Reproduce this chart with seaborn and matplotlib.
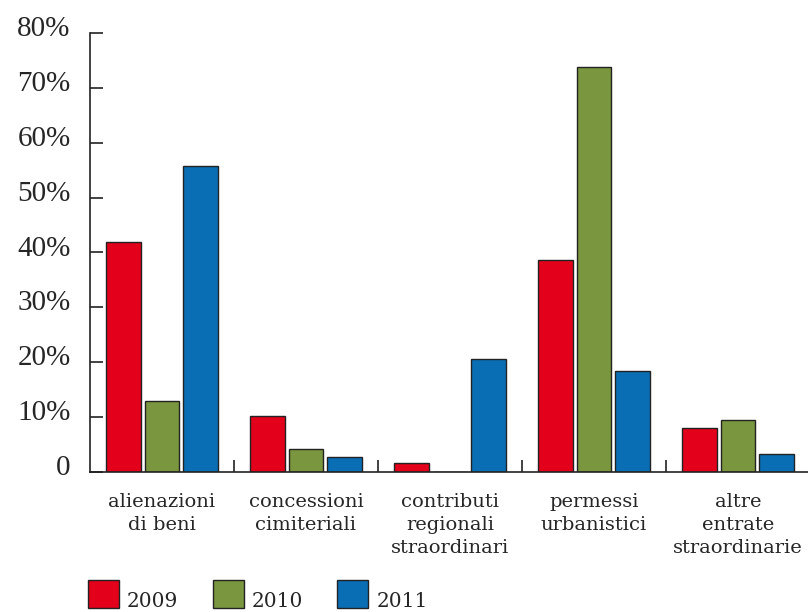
import matplotlib
matplotlib.use("Agg")
import matplotlib.pyplot as plt
import matplotlib.transforms as mtransforms
from matplotlib.legend_handler import HandlerPatch
import numpy as np
import pandas as pd
import seaborn as sns

categories = [
    "alienazioni\ndi beni",
    "concessioni\ncimiteriali",
    "contributi\nregionali\nstraordinari",
    "permessi\nurbanistici",
    "altre\nentrate\nstraordinarie",
]
years = ["2009", "2010", "2011"]
values_2009 = [42.0, 10.2, 1.6, 38.6, 8.0]
values_2010 = [12.9, 4.2, 0.0, 73.8, 9.5]
values_2011 = [55.7, 2.7, 20.6, 18.4, 3.3]
y_ticks = [0, 10, 20, 30, 40, 50, 60, 70, 80]
y_tick_labels = ["0", "10%", "20%", "30%", "40%", "50%", "60%", "70%", "80%"]

palette = {"2009": "#E2001A", "2010": "#7A963E", "2011": "#0A6EB4"}

df = pd.DataFrame({
    "categoria": categories * 3,
    "anno": [y for y in years for _ in categories],
    "valore": values_2009 + values_2010 + values_2011,
})

sns.set_theme(style="white")
plt.rcParams["font.family"] = ["Liberation Serif", "DejaVu Serif"]

fig = plt.figure(figsize=(8.08, 6.12), dpi=100)
ax = fig.add_axes([90 / 808, 140 / 612, 720 / 808, 439 / 612])

sns.barplot(data=df, x="categoria", y="valore", hue="anno", order=categories,
            hue_order=years, palette=palette, width=0.8, gap=0.1,
            edgecolor="#222222", linewidth=1.0, saturation=1, ax=ax)

ax.set_xlim(-0.5, 4.5)
ax.set_ylim(0, 80)
ax.set_yticks(y_ticks)
ax.set_yticklabels(y_tick_labels, fontsize=21, family="Liberation Serif")
ax.tick_params(axis="y", left=True, direction="in", length=9, width=1.2,
               color="#222222", pad=14)
# labels sit a little above their ticks in the original
shift_up = mtransforms.ScaledTranslation(0, 5 / 72, fig.dpi_scale_trans)
for lbl in ax.get_yticklabels():
    lbl.set_transform(lbl.get_transform() + shift_up)

ax.set_xticks(range(len(categories)))
ax.set_xticklabels(categories, fontsize=14, family="DejaVu Serif",
                   linespacing=1.38, va="top")
ax.tick_params(axis="x", which="major", bottom=False, length=0, pad=15)
ax.set_xticks([0.5, 1.5, 2.5, 3.5], minor=True)
ax.tick_params(axis="x", which="minor", bottom=True, direction="in", length=9,
               width=1.2, color="#222222")

ax.set_xlabel("")
ax.set_ylabel("")
for side in ["top", "right"]:
    ax.spines[side].set_visible(False)
for side in ["left", "bottom"]:
    ax.spines[side].set_color("#222222")
    ax.spines[side].set_linewidth(1.2)

ax.get_legend().remove()


def _raised_patch(legend, orig_handle, xdescent, ydescent, width, height, fontsize):
    # swatch sits higher than the label text
    return plt.Rectangle((-xdescent, -ydescent + 3), width, height * 1.15)


handles = [plt.Rectangle((0, 0), 1, 1, facecolor=palette[y],
                         edgecolor="#222222", linewidth=1.0) for y in years]
fig.legend(handles, years, loc="lower left", bbox_to_anchor=(88 / 808, 0.0),
           ncol=3, frameon=False, handlelength=1.54,
           handleheight=1.44, handletextpad=0.4, columnspacing=1.7,
           borderaxespad=0, borderpad=0,
           prop={"family": "DejaVu Serif", "size": 14.5},
           handler_map={plt.Rectangle: HandlerPatch(patch_func=_raised_patch)})

fig.savefig("out.png", dpi=100)
